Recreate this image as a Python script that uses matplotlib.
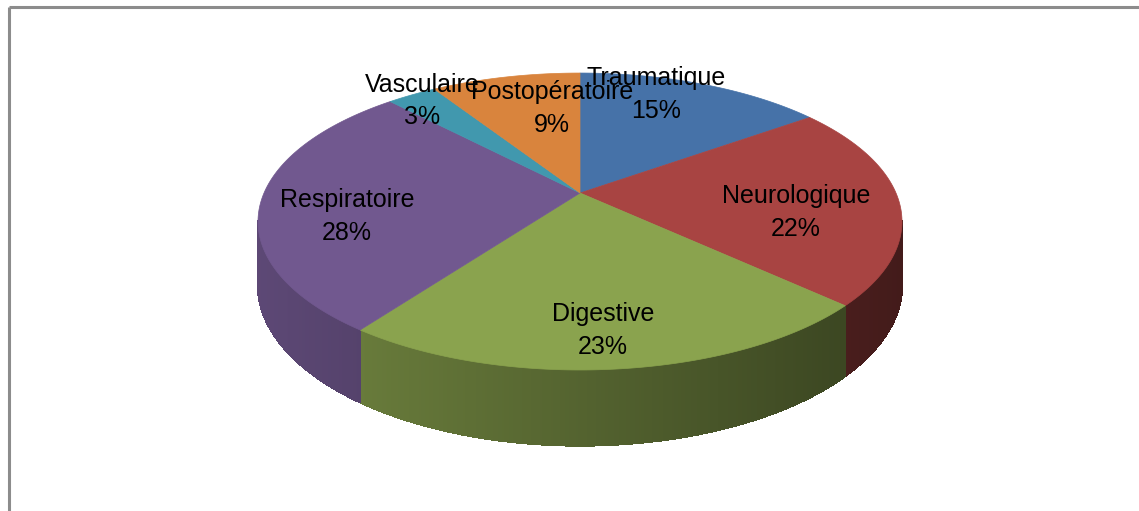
"""3D-style pie chart: répartition des causes (Excel look)."""

import matplotlib
matplotlib.use("Agg")
import matplotlib.pyplot as plt
import numpy as np
from matplotlib.collections import PolyCollection
from matplotlib.colors import to_rgb

# ── Data ──────────────────────────────────────────────────────────────────────
categories = ["Traumatique", "Neurologique", "Digestive",
              "Respiratoire", "Vasculaire", "Postopératoire"]
values     = [15, 22, 23, 28, 3, 9]

# ── Style / layout ────────────────────────────────────────────────────────────
top_colors = ["#4672a8", "#a84442", "#8aa34e", "#71588f", "#4198ae", "#d9843d"]
label_pos  = [(656, 95), (796, 213), (603, 331), (347, 216), (422, 101), (552, 109)]
LINE_GAP   = 33            # px between label name and percentage

CX, CY = 580, 193          # projected pie centre (px)
A, B   = 316, 143          # horizontal / vertical radius scale
K      = 0.192             # perspective strength
H      = 61                # pie thickness

plt.rcParams["font.family"] = ["Liberation Sans", "DejaVu Sans"]


def project(r, theta):
    u, v = r * np.cos(theta), r * np.sin(theta)
    w = 1 + K * v
    return CX + A * u / w, CY - B * v / w, w


fig = plt.figure(figsize=(11.39, 5.11), dpi=100)
ax = fig.add_axes([0, 0, 1, 1])
ax.set_xlim(0, 1139)
ax.set_ylim(511, 0)
ax.axis("off")

# slice angle ranges (plane angles, start at 12 o'clock, clockwise)
frac = np.array(values, dtype=float) / sum(values)
cum = np.concatenate([[0], np.cumsum(frac)])
starts = np.pi / 2 - 2 * np.pi * cum[1:]
ends   = np.pi / 2 - 2 * np.pi * cum[:-1]

# ── Side walls (front part only) ──────────────────────────────────────────────
vis_lo = -np.pi + np.arcsin(K)
vis_hi = -np.arcsin(K)
for s, e, col in zip(starts, ends, top_colors):
    lo, hi = max(s, vis_lo), min(e, vis_hi)
    if lo >= hi:
        continue
    th = np.linspace(lo, hi, int(np.degrees(hi - lo) * 3) + 2)
    x, y, w = project(1.0, th)
    yb = y + H / w
    polys, cols = [], []
    base = np.array(to_rgb(col))
    for i in range(len(th) - 1):
        polys.append([(x[i], y[i]), (x[i + 1], y[i + 1]),
                      (x[i + 1], yb[i + 1]), (x[i], yb[i])])
        xm = 0.5 * (x[i] + x[i + 1])
        f = np.clip(0.82 - 0.42 * (xm - 260) / 640, 0.38, 0.85)
        cols.append(base * f)
    ax.add_collection(PolyCollection(polys, facecolors=cols, edgecolors=cols,
                                     linewidths=1.0, antialiased=False))

# ── Top faces ─────────────────────────────────────────────────────────────────
for s, e, col in zip(starts, ends, top_colors):
    th = np.linspace(e, s, 200)
    x, y, _ = project(1.0, th)
    xs = np.concatenate([[CX], x])
    ys = np.concatenate([[CY], y])
    ax.fill(xs, ys, color=col, ec=col, lw=0.5)

# ── Labels ────────────────────────────────────────────────────────────────────
for name, v, (lx, ly) in zip(categories, values, label_pos):
    ax.text(lx, ly - LINE_GAP / 2, name, ha="center", va="center",
            fontsize=18, color="black")
    ax.text(lx, ly + LINE_GAP / 2, f"{v}%", ha="center", va="center",
            fontsize=18, color="black")

# ── Chart frame ───────────────────────────────────────────────────────────────
ax.plot([8.5, 1139], [7.5, 7.5], color="#8c8c8c", lw=2.2, solid_capstyle="butt")
ax.plot([8.5, 8.5], [7.5, 511], color="#8c8c8c", lw=2.2, solid_capstyle="butt")

fig.savefig("out.png", dpi=100)
